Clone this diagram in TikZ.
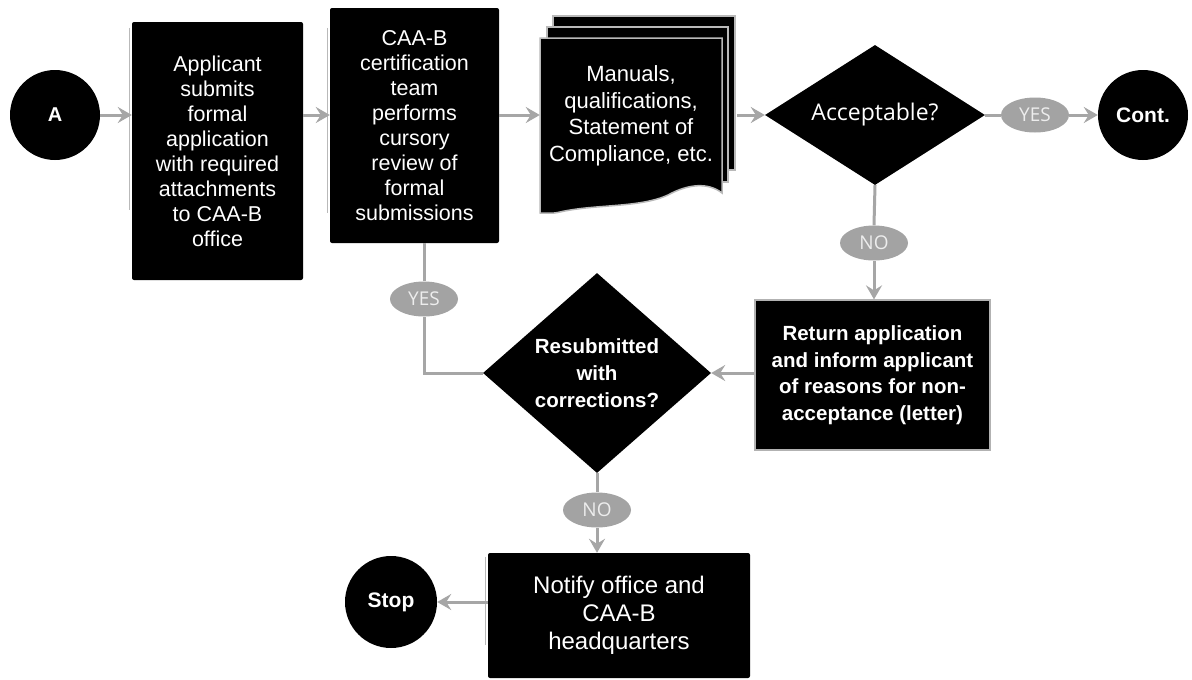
\documentclass[tikz,border=0pt]{standalone}
\usepackage{fontspec}
\setmainfont{Liberation Sans}
\newfontfamily\myriad{Open Sans}
\usetikzlibrary{shapes.geometric,arrows.meta}
\definecolor{conn}{HTML}{A6A6A6}
\definecolor{pill}{HTML}{A3A3A3}
\definecolor{pilltext}{HTML}{EDEDED}
\begin{document}
\begin{tikzpicture}[x=1pt,y=-1pt,
  box/.style={fill=black,text=white,rounded corners=2pt,inner sep=0pt,align=center,
    font=\fontsize{21.5}{25}\selectfont},
  endpt/.style={circle,fill=black,text=white,inner sep=0pt,minimum size=90pt,
    font=\bfseries\fontsize{20}{24}\selectfont},
  decision/.style={diamond,fill=black,text=white,inner sep=0pt,align=center},
  pilllabel/.style={ellipse,fill=pill,text=pilltext,inner sep=0pt,minimum width=68pt,
    minimum height=35pt,font=\myriad\fontsize{19}{19}\selectfont},
  arr/.style={draw=conn,line width=3pt,-{Stealth[length=14pt,width=16pt,inset=5pt]}},
  ln/.style={draw=conn,line width=3pt},
  sheet/.style={fill=black,draw=gray!55,line width=1.5pt},
  edgeline/.style={draw=gray!55,line width=1pt}]
\useasboundingbox[fill=white] (0,0) rectangle (1192,680);

% document stack
\path[sheet] (553,16) rectangle (735,170);
\path[sheet] (547,27) rectangle (728,182);
\path[sheet] (540,38) -- (722,38) -- (722,193)
  .. controls (708,182) and (688,184) .. (668,195)
  .. controls (640,208) and (595,204) .. (560,212)
  .. controls (552,214) and (545,213) .. (540,213) -- cycle;

% nodes
\node[endpt] (A) at (55,115) {A};
\node[box,minimum width=171pt,minimum height=258pt] (box1) at (217.5,151)
  {Applicant\\submits\\formal\\application\\with required\\attachments\\to CAA-B\\office};
\node[box,minimum width=169pt,minimum height=235pt] (box2) at (414.5,125.5)
  {CAA-B\\certification\\team\\performs\\cursory\\review of\\formal\\submissions};
\node[inner sep=0pt,minimum width=197pt,minimum height=197pt] (docs) at (638.5,114.5) {};
\node[text=white,align=center,font=\fontsize{22}{26.5}\selectfont] (doctext) at (631,116)
  {Manuals,\\qualifications,\\Statement of\\Compliance, etc.};
\node[decision,aspect=1.57,minimum width=220pt,minimum height=140pt,
  font=\myriad\fontsize{23}{26}\selectfont] (acc) at (875,115) {Acceptable?};
\node[pilllabel] (yesA) at (1035,115) {YES};
\node[endpt,font=\bfseries\fontsize{21}{24}\selectfont] (cont) at (1143,115) {Cont.};
\node[pilllabel] (noA) at (874,243) {NO};
\node[box,draw=gray!60,line width=1.2pt,rounded corners=0pt,minimum width=235pt,minimum height=150pt,
  font=\bfseries\fontsize{20.5}{26.5}\selectfont] (ret) at (872.5,375)
  {Return application\\and inform applicant\\of reasons for non-\\acceptance (letter)};
\node[decision,aspect=1.14,minimum width=228pt,minimum height=200pt,
  font=\bfseries\fontsize{20.5}{27}\selectfont] (resub) at (597,373)
  {Resubmitted\\with\\corrections?};
\node[pilllabel] (yesB) at (424,299) {YES};
\node[pilllabel] (noB) at (597,510) {NO};
\node[box,minimum width=262pt,minimum height=125pt,
  font=\fontsize{24}{28}\selectfont] (notify) at (619,615.5)
  {Notify office and\\CAA-B\\headquarters};
\node[endpt,minimum size=92pt,font=\bfseries\fontsize{21}{24}\selectfont] (stop) at (391,602) {Stop};

% faint left edges of the boxes
\draw[edgeline] ([xshift=-2pt,yshift=-6pt]box1.north west) -- ([xshift=-2pt,yshift=-188pt]box1.north west);
\draw[edgeline] ([xshift=-2pt,yshift=-20pt]box2.north west) -- ([xshift=-2pt,yshift=-205pt]box2.north west);
\draw[edgeline] ([xshift=-2pt,yshift=-4pt]notify.north west) -- ([xshift=-2pt,yshift=-92pt]notify.north west);

% connectors
\draw[arr] (A.east) -- (A -| box1.west);
\draw[arr] (A -| box1.east) -- (A -| box2.west);
\draw[arr] (A -| box2.east) -- (A -| docs.west);
\draw[arr] (A -| docs.east) -- (acc.west);
\draw[ln] (acc.east) -- (yesA.west);
\draw[arr] (yesA.east) -- (cont.west);
\draw[ln] (acc.south) -- (noA.north);
\draw[arr] (noA.south) -- (noA.south |- ret.north);
\draw[arr] (resub.east -| ret.west) -- (resub.east);
\draw[ln] (resub.west) -| (yesB.south);
\draw[ln] (yesB.north) -- (yesB.north |- box2.south);
\draw[ln] (resub.south) -- (noB.north);
\draw[arr] (noB.south) -- (noB.south |- notify.north);
\draw[arr] (stop.east -| notify.west) -- (stop.east);
\end{tikzpicture}
\end{document}
